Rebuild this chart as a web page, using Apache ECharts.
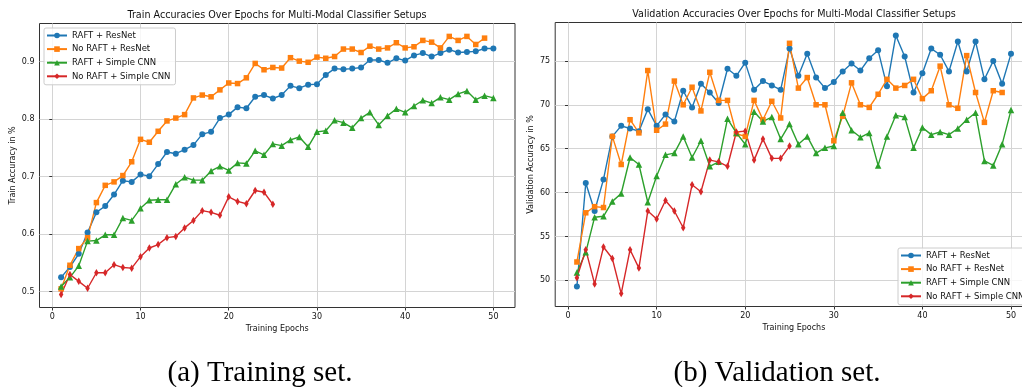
<!DOCTYPE html>
<html>
<head>
<meta charset="utf-8">
<script src="https://cdn.jsdelivr.net/npm/echarts@6/dist/echarts.min.js"></script>
<style>
  html, body { margin: 0; padding: 0; background: #fff; }
  #chart { width: 1022px; height: 387px; }
</style>
</head>
<body>
<div id="chart"></div>
<script>
// epochs and tick labels
const epochs = [1, 2, 3, 4, 5, 6, 7, 8, 9, 10, 11, 12, 13, 14, 15, 16, 17, 18, 19, 20,
  21, 22, 23, 24, 25, 26, 27, 28, 29, 30, 31, 32, 33, 34, 35, 36, 37, 38, 39, 40,
  41, 42, 43, 44, 45, 46, 47, 48, 49, 50];
const xTicks = [0, 10, 20, 30, 40, 50];
const trainTicks = [0.5, 0.6, 0.7, 0.8, 0.9];
const valTicks = [50, 55, 60, 65, 70, 75];

const names = ["RAFT + ResNet", "No RAFT + ResNet", "RAFT + Simple CNN", "No RAFT + Simple CNN"];

// train accuracies
const trainRaftResnet = [0.525, 0.543, 0.566, 0.603, 0.638, 0.649, 0.669, 0.693, 0.691, 0.704,
  0.701, 0.722, 0.743, 0.740, 0.747, 0.755, 0.774, 0.778, 0.802, 0.808,
  0.821, 0.819, 0.839, 0.842, 0.836, 0.842, 0.858, 0.854, 0.860, 0.861,
  0.877, 0.888, 0.887, 0.888, 0.890, 0.903, 0.903, 0.898, 0.906, 0.902,
  0.911, 0.915, 0.909, 0.915, 0.921, 0.916, 0.917, 0.918, 0.923, 0.923];
const trainNoRaftResnet = [0.505, 0.546, 0.575, 0.594, 0.655, 0.685, 0.691, 0.702, 0.726, 0.765,
  0.760, 0.779, 0.797, 0.802, 0.808, 0.837, 0.842, 0.839, 0.851, 0.863,
  0.862, 0.872, 0.897, 0.886, 0.890, 0.889, 0.907, 0.901, 0.899, 0.908,
  0.906, 0.909, 0.922, 0.922, 0.916, 0.927, 0.922, 0.924, 0.933, 0.924,
  0.926, 0.937, 0.934, 0.924, 0.944, 0.937, 0.944, 0.930, 0.941];
const trainRaftCnn = [0.509, 0.525, 0.545, 0.588, 0.589, 0.599, 0.599, 0.628, 0.624, 0.645,
  0.659, 0.660, 0.660, 0.687, 0.699, 0.694, 0.694, 0.710, 0.718, 0.711,
  0.724, 0.723, 0.745, 0.738, 0.757, 0.754, 0.764, 0.769, 0.752, 0.778,
  0.780, 0.798, 0.794, 0.785, 0.802, 0.812, 0.790, 0.806, 0.818, 0.812,
  0.823, 0.833, 0.828, 0.838, 0.834, 0.844, 0.849, 0.834, 0.841, 0.837];
const trainNoRaftCnn = [0.495, 0.530, 0.518, 0.506, 0.533, 0.533, 0.547, 0.542, 0.541, 0.561,
  0.576, 0.582, 0.594, 0.596, 0.611, 0.624, 0.641, 0.638, 0.633, 0.665,
  0.657, 0.653, 0.676, 0.673, 0.652];

// validation accuracies
const valRaftResnet = [49.3, 61.1, 57.9, 61.5, 66.4, 67.6, 67.3, 67.0, 69.5, 67.6,
  68.9, 68.1, 71.6, 69.7, 72.4, 71.4, 70.2, 74.1, 73.3, 74.8,
  71.7, 72.7, 72.2, 71.7, 76.4, 73.3, 75.8, 73.1, 71.9, 72.6,
  73.8, 74.7, 73.9, 75.3, 76.2, 72.1, 77.9, 75.5, 71.4, 73.6,
  76.4, 75.7, 73.8, 77.2, 73.8, 77.2, 72.9, 75.0, 72.4, 75.8];
const valNoRaftResnet = [52.1, 57.7, 58.4, 58.3, 66.4, 63.2, 68.3, 66.8, 73.9, 67.1,
  67.8, 72.7, 70.0, 72.0, 69.3, 73.7, 70.5, 70.5, 66.7, 66.4,
  70.5, 68.3, 70.4, 68.5, 77.0, 71.9, 73.1, 70.0, 70.0, 65.9,
  68.7, 72.5, 70.0, 69.7, 71.2, 72.9, 71.9, 72.2, 72.9, 70.7,
  71.6, 74.4, 70.0, 69.6, 75.6, 71.4, 68.0, 71.6, 71.4];
const valRaftCnn = [50.9, 53.2, 57.2, 57.3, 59.0, 59.9, 64.0, 63.2, 58.9, 61.9,
  64.3, 64.5, 66.4, 64.0, 65.9, 63.0, 63.5, 68.4, 66.8, 65.5,
  69.2, 68.1, 68.6, 66.1, 67.8, 65.5, 66.4, 64.5, 65.1, 65.3,
  69.1, 67.1, 66.3, 66.8, 63.1, 66.4, 68.8, 68.6, 65.1, 67.4,
  66.6, 66.9, 66.6, 67.3, 68.3, 69.1, 63.6, 63.1, 65.5, 69.4];
const valNoRaftCnn = [50.3, 53.5, 49.6, 53.8, 52.5, 48.5, 53.5, 51.4, 57.9, 57.0,
  59.1, 57.9, 56.0, 60.9, 60.1, 63.7, 63.5, 63.0, 66.9, 67.0,
  63.7, 66.1, 63.9, 63.9, 65.3];

const colors = ["#1f77b4", "#ff7f0e", "#2ca02c", "#d62728"];
const symbols = ["circle", "rect", "triangle", "diamond"];
const symbolSizes = [6, 5.5, 6.5, [4.5, 7.5]];
const font = "DejaVu Sans";

var myChart = echarts.init(document.getElementById("chart"));

// pair epochs with values
const pairs = (vals) => vals.map((v, i) => [epochs[i], v]);
// matplotlib-like 5% margins
const padMin = (v) => v.min - 0.05 * (v.max - v.min);
const padMax = (v) => v.max + 0.05 * (v.max - v.min);

const makeSeries = (vals, k, idx) => ({
  name: names[k],
  type: "line",
  xAxisIndex: idx,
  yAxisIndex: idx,
  data: pairs(vals),
  symbol: symbols[k],
  symbolSize: symbolSizes[k],
  itemStyle: { color: colors[k] },
  lineStyle: { color: colors[k], width: 1.4 },
  emphasis: { disabled: true },
});

const xAxisOf = (idx) => ({
  type: "value",
  gridIndex: idx,
  min: padMin,
  max: padMax,
  name: "Training Epochs",
  nameLocation: "middle",
  nameGap: 17,
  nameTextStyle: { fontFamily: font, fontSize: 8, color: "#111" },
  axisLine: { show: false },
  axisTick: { show: true, length: 3, customValues: xTicks, lineStyle: { color: "#333" } },
  axisLabel: { customValues: xTicks, fontFamily: font, fontSize: 8, color: "#111", margin: 5 },
  splitLine: { show: true, lineStyle: { color: "#d4d4d4", width: 1 } },
});

const yAxisOf = (idx, ticks, label, gap) => ({
  type: "value",
  gridIndex: idx,
  min: padMin,
  max: padMax,
  name: label,
  nameLocation: "middle",
  nameGap: gap,
  nameTextStyle: { fontFamily: font, fontSize: 8, color: "#111" },
  axisLine: { show: false },
  axisTick: { show: true, length: 3, customValues: ticks, lineStyle: { color: "#333" } },
  axisLabel: { customValues: ticks, fontFamily: font, fontSize: 8, color: "#111", margin: 5 },
  splitLine: { show: true, lineStyle: { color: "#d4d4d4", width: 1 } },
});

const legendOf = (left, top) => ({
  orient: "vertical",
  left: left,
  top: top,
  data: names,
  itemWidth: 20,
  itemHeight: 7,
  itemGap: 4.6,
  padding: [3, 5, 4, 2],
  backgroundColor: "rgba(255,255,255,0.8)",
  borderColor: "#cccccc",
  borderWidth: 1,
  borderRadius: 2,
  textStyle: { fontFamily: font, fontSize: 8.5, color: "#111" },
  selectedMode: false,
});

myChart.setOption({
  animation: false,
  grid: [
    { left: 39.5, top: 23.5, width: 475.5, height: 284, show: true, borderColor: "#333", borderWidth: 1, outerBoundsMode: "none" },
    { left: 555.2, top: 22.5, width: 477.5, height: 284, show: true, borderColor: "#333", borderWidth: 1, outerBoundsMode: "none" },
  ],
  xAxis: [xAxisOf(0), xAxisOf(1)],
  yAxis: [
    yAxisOf(0, trainTicks, "Train Accuracy in %", 23),
    yAxisOf(1, valTicks, "Validation Accuracy in %", 20),
  ],
  legend: [legendOf(44, 28), legendOf(898, 248)],
  graphic: [
    { type: "text", style: { text: "Train Accuracies Over Epochs for Multi-Modal Classifier Setups", x: 277, y: 15, align: "center", verticalAlign: "middle", font: "9.6px 'DejaVu Sans'", fill: "#111" } },
    { type: "text", style: { text: "Validation Accuracies Over Epochs for Multi-Modal Classifier Setups", x: 794, y: 14, align: "center", verticalAlign: "middle", font: "9.6px 'DejaVu Sans'", fill: "#111" } },
    { type: "text", style: { text: "(a) Training set.", x: 260, y: 373, align: "center", verticalAlign: "middle", font: "29px 'Liberation Serif'", fill: "#000" } },
    { type: "text", style: { text: "(b) Validation set.", x: 777, y: 373, align: "center", verticalAlign: "middle", font: "29px 'Liberation Serif'", fill: "#000" } },
  ],
  series: [
    makeSeries(trainRaftResnet, 0, 0),
    makeSeries(trainNoRaftResnet, 1, 0),
    makeSeries(trainRaftCnn, 2, 0),
    makeSeries(trainNoRaftCnn, 3, 0),
    makeSeries(valRaftResnet, 0, 1),
    makeSeries(valNoRaftResnet, 1, 1),
    makeSeries(valRaftCnn, 2, 1),
    makeSeries(valNoRaftCnn, 3, 1),
  ],
});
</script>
</body>
</html>
